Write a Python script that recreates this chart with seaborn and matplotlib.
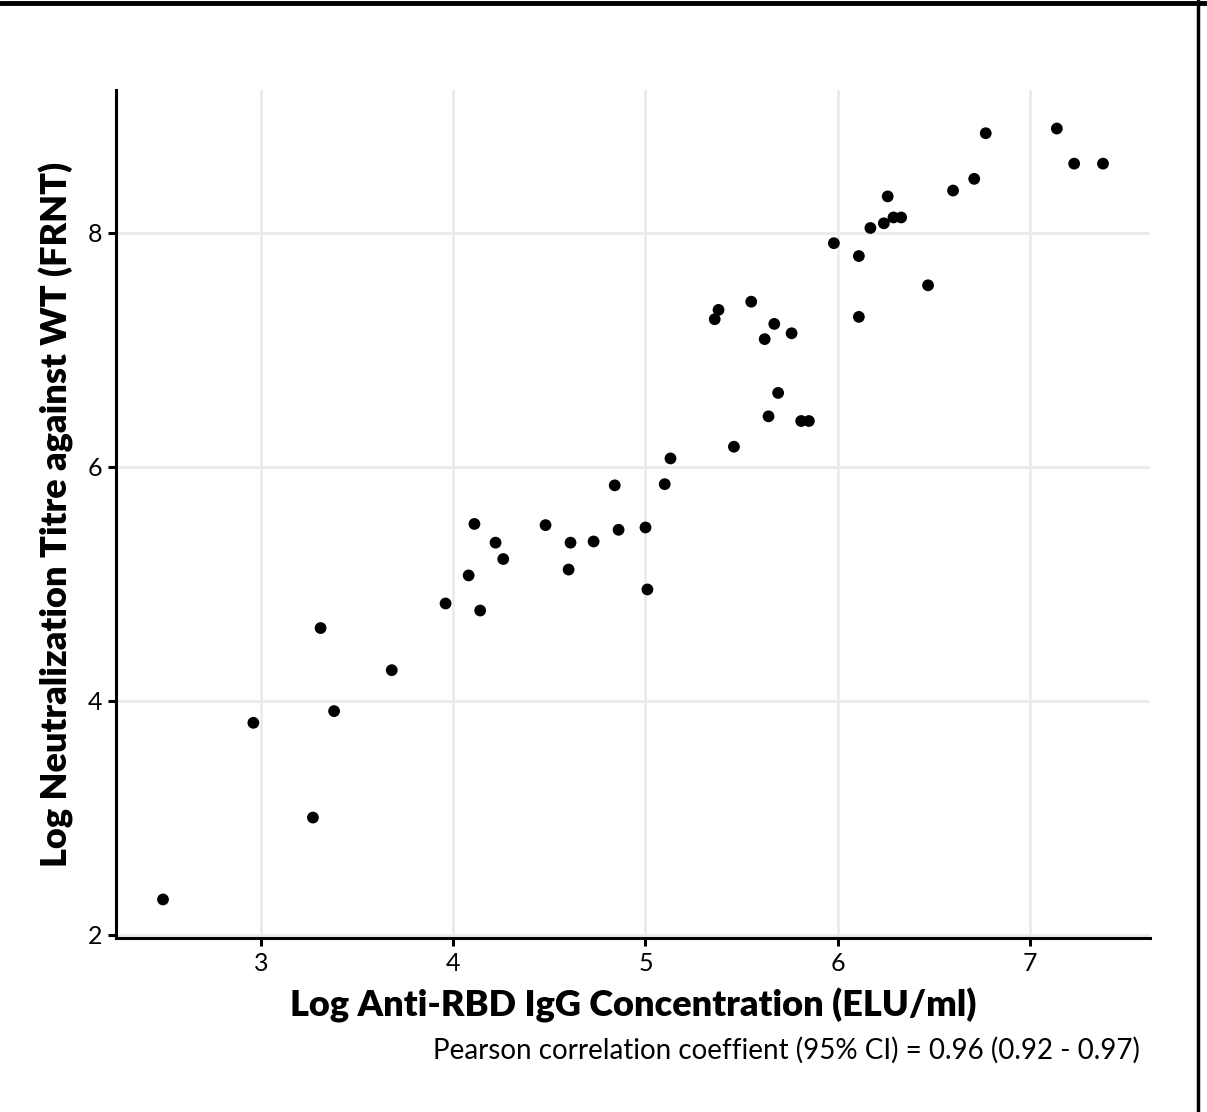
import pandas as pd
import matplotlib
matplotlib.use('Agg')
import matplotlib.pyplot as plt
import seaborn as sns
from matplotlib.lines import Line2D

# values
log_igg = [2.49, 2.96, 3.27, 3.31, 3.38, 3.68, 3.96, 4.08, 4.11, 4.14,
           4.22, 4.26, 4.48, 4.60, 4.61, 4.73, 4.84, 4.86, 5.00, 5.01,
           5.10, 5.13, 5.36, 5.38, 5.46, 5.55, 5.62, 5.64, 5.67, 5.69,
           5.76, 5.81, 5.85, 5.98, 6.11, 6.11, 6.17, 6.24, 6.26, 6.29,
           6.33, 6.47, 6.60, 6.71, 6.77, 7.14, 7.23, 7.38]
log_frnt = [2.30, 3.81, 3.00, 4.62, 3.91, 4.26, 4.83, 5.07, 5.51, 4.77,
            5.35, 5.21, 5.50, 5.12, 5.35, 5.36, 5.84, 5.46, 5.48, 4.95,
            5.85, 6.07, 7.26, 7.34, 6.17, 7.41, 7.09, 6.43, 7.22, 6.63,
            7.14, 6.39, 6.39, 7.91, 7.80, 7.28, 8.04, 8.08, 8.31, 8.13,
            8.13, 7.55, 8.36, 8.46, 8.85, 8.89, 8.59, 8.59]

x_label = 'Log Anti-RBD IgG Concentration (ELU/ml)'
y_label = 'Log Neutralization Titre against WT (FRNT)'
caption = 'Pearson correlation coeffient (95% CI) = 0.96 (0.92 - 0.97)'

df = pd.DataFrame({'igg': log_igg, 'frnt': log_frnt})

sns.set_style('whitegrid')
plt.rcParams['font.family'] = ['Lato', 'DejaVu Sans']
plt.rcParams['text.color'] = 'black'

fig = plt.figure(figsize=(12.07, 11.12), dpi=100)
ax = fig.add_axes([116 / 1207, 1 - 938 / 1112, (1150 - 116) / 1207, (938 - 90) / 1112])

sns.scatterplot(data=df, x='igg', y='frnt', color='black', s=72,
                edgecolor='none', linewidth=0, ax=ax)

# ggplot style 5% expansion
xmin, xmax = min(log_igg), max(log_igg)
ymin, ymax = min(log_frnt), max(log_frnt)
xpad = (xmax - xmin) * 0.05
ypad = (ymax - ymin) * 0.05
ax.set_xlim(xmin - xpad, xmax + xpad)
ax.set_ylim(ymin - ypad, ymax + ypad)
ax.set_xticks([3, 4, 5, 6, 7])
ax.set_yticks([2, 4, 6, 8])

ax.grid(True, color='#ebebeb', linewidth=2.0)
ax.set_axisbelow(True)
for side in ['top', 'right']:
    ax.spines[side].set_visible(False)
for side in ['left', 'bottom']:
    ax.spines[side].set_color('black')
    ax.spines[side].set_linewidth(2.2)

ax.tick_params(axis='both', which='major', length=6, width=2.2, color='black',
               labelsize=18, labelcolor='black', pad=4, left=True, bottom=True)

ax.set_xlabel(x_label, fontsize=26, fontweight='heavy', color='black', labelpad=9)
ax.set_ylabel(y_label, fontsize=26, fontweight='heavy', color='black', labelpad=10)

fig.text(1140 / 1207, 1 - 1050 / 1112, caption, ha='right', va='center',
         fontsize=20, color='black')

# panel frame (top and right edges)
fig.add_artist(Line2D([0, 1], [1 - 2.5 / 1112, 1 - 2.5 / 1112],
                      transform=fig.transFigure, color='black', linewidth=3.5))
fig.add_artist(Line2D([1198 / 1207, 1198 / 1207], [0, 1],
                      transform=fig.transFigure, color='black', linewidth=2.5))

fig.savefig('out.png', dpi=100, facecolor='white')
